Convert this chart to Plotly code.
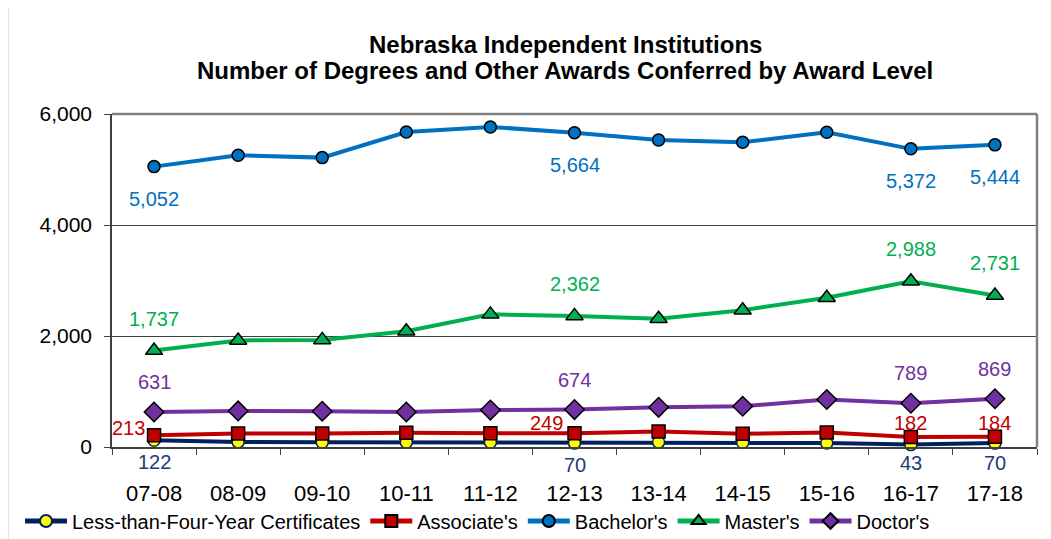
import plotly.graph_objects as go

years = ["07-08", "08-09", "09-10", "10-11", "11-12", "12-13", "13-14", "14-15", "15-16", "16-17", "17-18"]
certificates = [122, 92, 85, 85, 85, 70, 88, 80, 72, 43, 70]
associates = [213, 245, 243, 255, 247, 249, 278, 237, 260, 182, 184]
bachelors = [5052, 5257, 5214, 5676, 5767, 5664, 5532, 5490, 5670, 5372, 5444]
masters = [1737, 1920, 1930, 2085, 2390, 2362, 2311, 2465, 2689, 2988, 2731]
doctors = [631, 650, 645, 630, 665, 674, 715, 735, 855, 789, 869]

series_names = ["Less-than-Four-Year Certificates", "Associate's", "Bachelor's", "Master's", "Doctor's"]
title_lines = ["Nebraska Independent Institutions",
               "Number of Degrees and Other Awards Conferred by Award Level"]
labeled_idx = [0, 5, 9, 10]

FONT = "Arial, Liberation Sans, sans-serif"

# page body has an 8px default margin; figure sized so that it fills the window
OFF = 8
W, H = 1051 - OFF, 539 - OFF
PL, PR, PT, PB = 112 - OFF, 1037 - OFF, 114 - OFF, 447 - OFF  # plot area in figure px
PW, PH = PR - PL, PB - PT

def px_x(x):  # window px -> paper
    return (x - OFF - PL) / PW

def px_y(y):
    return (PB - (y - OFF)) / PH

fig = go.Figure()

styles = [
    (certificates, "#002060", dict(symbol="circle", size=12, color="#FFFF00", line=dict(color="#002060", width=1.5))),
    (associates, "#C00000", dict(symbol="square", size=13, color="#C00000", line=dict(color="#000000", width=1.5))),
    (bachelors, "#0070C0", dict(symbol="circle", size=12, color="#0070C0", line=dict(color="#000000", width=1.5))),
    (masters, "#00B050", dict(symbol="triangle-up", size=15, color="#00B050", line=dict(color="#000000", width=1.5))),
    (doctors, "#7030A0", dict(symbol="diamond", size=15, color="#7030A0", line=dict(color="#000000", width=1.5))),
]

for name, (vals, col, mk) in zip(series_names, styles):
    fig.add_trace(go.Scatter(
        x=years, y=vals, name=name, mode="lines+markers",
        line=dict(color=col, width=4), marker=mk, cliponaxis=False,
    ))

annotations = []

for txt, ypx in zip(title_lines, [45, 70]):
    annotations.append(dict(
        text=f"<b>{txt}</b>", xref="paper", yref="paper",
        x=px_x(565), y=px_y(ypx), xanchor="center", yanchor="middle",
        showarrow=False, font=dict(family=FONT, size=24, color="#000000"),
    ))

def lab(vals, color, yshift, xshift_map=None, yshift_map=None):
    for i in labeled_idx:
        xs = 0
        ys = yshift
        if xshift_map and i in xshift_map:
            xs = xshift_map[i]
        if yshift_map and i in yshift_map:
            ys = yshift_map[i]
        annotations.append(dict(
            x=years[i], y=vals[i], xref="x", yref="y", text=f"{vals[i]:,}",
            showarrow=False, xshift=xs, yshift=ys,
            font=dict(family=FONT, size=20, color=color),
            xanchor="center", yanchor="middle",
        ))

lab(bachelors, "#0070C0", -32)
lab(masters, "#00B050", 32)
lab(doctors, "#7030A0", 30)
lab(certificates, "#1F3A7A", -22, yshift_map={9: -18, 10: -20})
lab(associates, "#C00000", 14, xshift_map={0: -26, 5: -28}, yshift_map={0: 7, 5: 10})

fig.update_layout(
    width=W, height=H,
    paper_bgcolor="white", plot_bgcolor="white",
    margin=dict(l=PL, r=W - PR, t=PT, b=H - PB, autoexpand=False),
    font=dict(family=FONT, size=20, color="#000000"),
    showlegend=True,
    legend=dict(
        orientation="h", xref="paper", yref="paper",
        x=px_x(20), xanchor="left", y=px_y(521), yanchor="middle",
        font=dict(family=FONT, size=20), bgcolor="rgba(0,0,0,0)",
        itemsizing="constant", itemwidth=42, tracegroupgap=0,
    ),
    annotations=annotations,
    xaxis=dict(
        type="category", range=[-0.5, 10.5], showgrid=False,
        showline=True, linecolor="#404040", linewidth=1.5,
        ticks="outside", tickson="boundaries", ticklen=6, tickcolor="#404040",
        tickfont=dict(family=FONT, size=22), ticklabelstandoff=26, fixedrange=True,
        automargin=False,
    ),
    yaxis=dict(
        range=[0, 6000], tickvals=[0, 2000, 4000, 6000], tickformat=",",
        showgrid=True, gridcolor="#404040", gridwidth=1,
        showline=True, linecolor="#404040", linewidth=1.5,
        ticks="outside", ticklen=6, tickcolor="#404040",
        tickfont=dict(family=FONT, size=21), zeroline=False, fixedrange=True,
        ticklabelstandoff=8, automargin=False,
    ),
    shapes=[
        dict(type="line", xref="paper", yref="paper", x0=0, x1=1, y0=1, y1=1,
             line=dict(color="#808080", width=2.5)),
        dict(type="line", xref="paper", yref="paper", x0=1, x1=1, y0=0, y1=1,
             line=dict(color="#808080", width=2.5)),
        dict(type="rect", xref="paper", yref="paper",
             x0=px_x(8), x1=px_x(1070), y0=px_y(550), y1=px_y(4),
             line=dict(color="#D9D9D9", width=1.5), layer="below"),
    ],
)

fig.write_html("out.html")
